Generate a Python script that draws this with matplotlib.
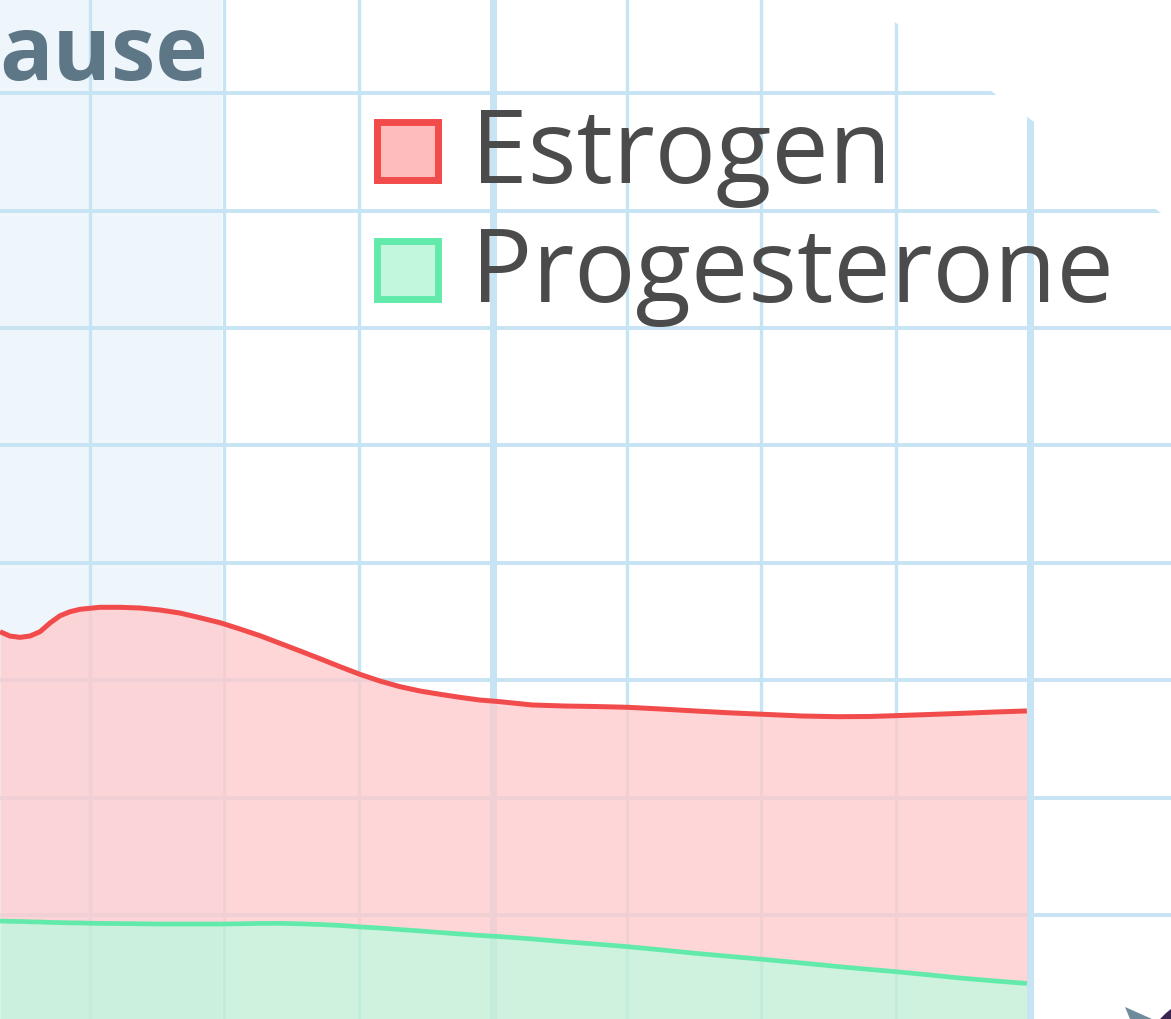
import matplotlib.pyplot as plt
from matplotlib.patches import Patch, Polygon
from matplotlib.legend_handler import HandlerPatch

# values (x: grid columns, y: grid rows)
years = [-0.670, -0.596, -0.521, -0.447, -0.372, -0.298, -0.223, -0.149, -0.074, 0.074,
         0.223, 0.372, 0.521, 0.670, 0.819, 0.968, 1.117, 1.266, 1.415, 1.564,
         1.713, 1.862, 2.010, 2.159, 2.308, 2.457, 2.606, 2.755, 2.904, 3.053,
         3.291, 3.537, 3.760, 4.006, 4.244, 4.505, 4.765, 5.004, 5.302, 5.570,
         5.808, 6.001, 6.255, 6.500, 6.739, 6.977]
estrogen = [3.413, 3.376, 3.365, 3.376, 3.413, 3.487, 3.549, 3.583, 3.604, 3.621,
            3.621, 3.615, 3.598, 3.572, 3.532, 3.490, 3.436, 3.379, 3.314, 3.249,
            3.183, 3.115, 3.050, 2.993, 2.945, 2.908, 2.880, 2.854, 2.831, 2.817,
            2.789, 2.780, 2.776, 2.769, 2.755, 2.738, 2.722, 2.710, 2.695, 2.689,
            2.691, 2.698, 2.708, 2.718, 2.729, 2.738]
progesterone = [0.949, 0.946, 0.945, 0.942, 0.940, 0.937, 0.935, 0.933, 0.932, 0.928,
                0.927, 0.925, 0.923, 0.923, 0.923, 0.923, 0.925, 0.928, 0.929, 0.925,
                0.919, 0.911, 0.899, 0.889, 0.876, 0.864, 0.851, 0.838, 0.826, 0.816,
                0.796, 0.772, 0.753, 0.730, 0.704, 0.674, 0.647, 0.623, 0.591, 0.561,
                0.536, 0.517, 0.489, 0.461, 0.438, 0.417]
phase_span = [-0.67, 0.985]
phase_label = "ause"
labels = ["Estrogen", "Progesterone"]

grid_x = [0, 1, 2, 3, 4, 5, 6, 7]
major_x = [3, 7]
grid_y = [1, 2, 3, 4, 5, 6, 7, 8]

fig = plt.figure(figsize=(11.71, 10.19), dpi=100)
ax = fig.add_axes([0, 0, 1, 1])
ax.set_xlim(-0.67, 8.05)
ax.set_ylim(0.114, 8.794)
ax.axis('off')

gridc = '#c6e4f3'
ax.axvspan(phase_span[0], phase_span[1], color='#eef6fb', lw=0, zorder=0)
for gx in grid_x:
    ax.axvline(gx, color=gridc, lw=5 if gx in major_x else 2.4, zorder=1)
for gy in grid_y:
    ax.axhline(gy, color=gridc, lw=2.8, zorder=1)

# fills and lines
ax.fill_between(years, progesterone, estrogen, color='#ffc9cb', alpha=0.75, lw=0, zorder=2)
ax.fill_between(years, 0, progesterone, color='#c3efd6', alpha=0.8, lw=0, zorder=2)
ax.plot(years, estrogen, color='#f24b4b', lw=3.6, zorder=3, solid_capstyle='butt')
ax.plot(years, progesterone, color='#62eaab', lw=3.4, zorder=3, solid_capstyle='butt')

# page corner and arrow piece
fig.patches.append(Polygon([(864/1171, 1), (1, 1), (1, 1 - 220/1019)], closed=True,
                           transform=fig.transFigure, fc='white', ec='none', zorder=5))
fig.patches.append(Polygon([(1125/1171, 1 - 1007/1019), (1152/1171, 0), (1130/1171, 0)],
                           closed=True, transform=fig.transFigure, fc='#6f8a9a', ec='none'))
fig.patches.append(Polygon([(1166/1171, 1 - 1013/1019), (1, 1 - 1009/1019), (1, 0), (1160/1171, 0)],
                           closed=True, transform=fig.transFigure, fc='#3a2450', ec='none'))

fig.text(208/1171, 1 - 80/1019, phase_label, ha='right', va='baseline',
         fontsize=64, fontweight='bold', color='#5d7786', family='Open Sans')

handles = [Patch(facecolor='#ffbcbd', edgecolor='#f24b4b', lw=5),
           Patch(facecolor='#c3f7dd', edgecolor='#62eaab', lw=5)]
leg = fig.legend(handles, labels, loc='upper left', bbox_to_anchor=(376.5/1171, 1 - 105/1019),
                 frameon=False, prop={'family': 'Open Sans', 'size': 73.5},
                 handlelength=0.6, handleheight=0.367, handletextpad=0.33,
                 labelspacing=0.16, borderpad=0, borderaxespad=0,
                 handler_map={Patch: HandlerPatch(ypad=-0.083)})
for t in leg.get_texts():
    t.set_color('#4b4b4b')

fig.savefig('out.png', dpi=100)
